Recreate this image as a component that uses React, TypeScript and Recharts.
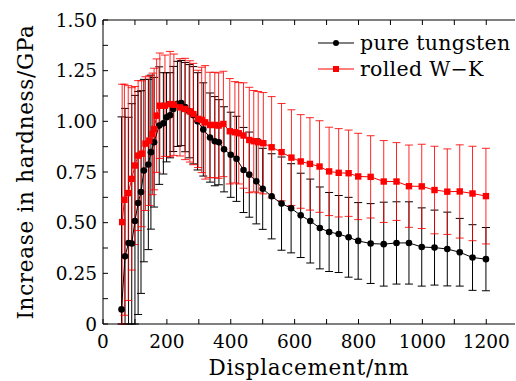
import {
  ScatterChart,
  Scatter,
  XAxis,
  YAxis,
  ErrorBar,
  Legend,
} from "recharts";

const FONT = "'DejaVu Serif', serif";

// displacement (nm), hardness increase (GPa), error half-width (GPa)
const pureX = [
  58, 69, 80, 90, 100, 110, 119, 128, 142, 150, 160, 176, 189, 199, 210, 220, 233, 245, 257, 270,
  283, 296, 314, 335, 350, 363, 379, 400, 418, 440, 458, 480, 500, 528, 559, 589, 619, 649, 679, 708,
  738, 769, 799, 838, 879, 919, 958, 998, 1038, 1078, 1117, 1157, 1199,
];
const pureY = [
  0.072, 0.334, 0.4, 0.397, 0.508, 0.597, 0.651, 0.757, 0.787, 0.848, 0.897, 0.979, 0.99, 1.02, 1.03,
  1.061, 1.086, 1.09, 1.07, 1.05, 1.03, 1.0, 0.96, 0.92, 0.902, 0.897, 0.862, 0.835, 0.815, 0.76,
  0.737, 0.704, 0.667, 0.63, 0.594, 0.571, 0.536, 0.508, 0.474, 0.454, 0.444, 0.428, 0.41, 0.397,
  0.394, 0.4, 0.4, 0.38, 0.377, 0.37, 0.354, 0.328, 0.32,
];
const pureErr = [
  0.95, 0.73, 0.62, 0.69, 0.62, 0.55, 0.5, 0.45, 0.42, 0.38, 0.32, 0.29, 0.25, 0.22, 0.21, 0.21, 0.21,
  0.21, 0.22, 0.23, 0.24, 0.24, 0.23, 0.22, 0.22, 0.21, 0.21, 0.21, 0.21, 0.21, 0.21, 0.21, 0.2, 0.21,
  0.23, 0.22, 0.208, 0.207, 0.202, 0.195, 0.19, 0.197, 0.189, 0.197, 0.207, 0.203, 0.203, 0.193, 0.185,
  0.182, 0.167, 0.162, 0.156,
];

const rolledX = [
  60, 67, 79, 90, 100, 110, 121, 133, 145, 155, 160, 168, 178, 194, 210, 222, 241, 257, 272, 283, 298,
  309, 320, 335, 350, 362, 377, 397, 413, 425, 440, 458, 472, 486, 502, 528, 559, 590, 619, 648, 678,
  708, 738, 769, 799, 838, 879, 919, 958, 998, 1038, 1078, 1117, 1157, 1199,
];
const rolledY = [
  0.503, 0.613, 0.646, 0.716, 0.782, 0.831, 0.84, 0.89, 0.905, 0.938, 0.962, 1.028, 1.077, 1.077,
  1.085, 1.082, 1.069, 1.061, 1.049, 1.036, 1.012, 1.007, 0.995, 0.982, 0.982, 0.979, 0.987, 0.951,
  0.946, 0.941, 0.93, 0.908, 0.902, 0.897, 0.892, 0.872, 0.848, 0.821, 0.802, 0.79, 0.777, 0.753,
  0.746, 0.744, 0.728, 0.726, 0.703, 0.703, 0.68, 0.679, 0.661, 0.653, 0.654, 0.644, 0.631,
];
const rolledErr = [
  0.68, 0.57, 0.53, 0.45, 0.39, 0.37, 0.36, 0.33, 0.32, 0.3, 0.3, 0.28, 0.26, 0.25, 0.26, 0.25, 0.24,
  0.25, 0.25, 0.25, 0.24, 0.26, 0.28, 0.26, 0.26, 0.26, 0.26, 0.26, 0.25, 0.25, 0.26, 0.26, 0.25, 0.25,
  0.25, 0.25, 0.24, 0.236, 0.231, 0.228, 0.226, 0.218, 0.218, 0.213, 0.213, 0.203, 0.202, 0.192, 0.203,
  0.208, 0.216, 0.211, 0.23, 0.233, 0.236,
];

const xTicks = [0, 100, 200, 300, 400, 500, 600, 700, 800, 900, 1000, 1100, 1200];
const yTicks = [0, 0.125, 0.25, 0.375, 0.5, 0.625, 0.75, 0.875, 1, 1.125, 1.25, 1.375, 1.5];

const SERIES = [
  { name: "pure tungsten", color: "#000000", marker: "circle" },
  { name: "rolled W\u2212K", color: "#ff0000", marker: "square" },
];

// error bars stop at the x axis, like the clipped bars in the figure
const toRows = (xs: number[], ys: number[], es: number[]) =>
  xs.map((x, i) => ({ x, y: ys[i], err: [Math.min(es[i], ys[i]), es[i]] }));

const pureData = toRows(pureX, pureY, pureErr);
const rolledData = toRows(rolledX, rolledY, rolledErr);

const xLabel = (v: number) => (v % 200 === 0 ? String(v) : "");
const yLabel = (v: number) => {
  const q = v * 4;
  if (Math.abs(q - Math.round(q)) > 1e-6) return "";
  return v === 0 ? "0" : v.toFixed(2);
};

const Dot = (p: any) => <circle cx={p.cx} cy={p.cy} r={3.3} fill="#000" />;
const Square = (p: any) => <rect x={p.cx - 3.2} y={p.cy - 3.2} width={6.4} height={6.4} fill="#ff0000" />;

function LegendBox() {
  return (
    <div style={{ fontFamily: FONT, fontSize: 20.5, letterSpacing: 0.3, color: "#000" }}>
      {SERIES.map((s) => (
        <div key={s.name} style={{ display: "flex", alignItems: "center", height: 26 }}>
          <svg width={36} height={12} style={{ marginRight: 6 }}>
            <line x1={0} y1={6} x2={36} y2={6} stroke={s.color} strokeWidth={1} />
            {s.marker === "circle" ? (
              <circle cx={18} cy={6} r={3} fill={s.color} />
            ) : (
              <rect x={15} y={3} width={6} height={6} fill={s.color} />
            )}
          </svg>
          <span style={{ lineHeight: "26px" }}>{s.name}</span>
        </div>
      ))}
    </div>
  );
}

export default function App() {
  const tickStyle = { fontSize: 18.5, fill: "#000", fontFamily: FONT };
  const titleStyle = { fontSize: 21.5, fill: "#000", fontFamily: FONT, letterSpacing: 0.7 };
  return (
    <div style={{ position: "absolute", left: 0, top: 0, width: 516, height: 381, background: "#fff" }}>
      <ScatterChart width={516} height={381} margin={{ top: 19, right: 1, bottom: 0, left: 0 }} style={{ fontFamily: FONT }}>
        <XAxis
          xAxisId="top"
          orientation="top"
          type="number"
          dataKey="x"
          domain={[0, 1290]}
          ticks={xTicks}
          tickFormatter={() => ""}
          tickSize={-5}
          height={1}
          stroke="#000"
          allowDataOverflow
        />
        <XAxis
          type="number"
          dataKey="x"
          domain={[0, 1290]}
          ticks={xTicks}
          tickFormatter={xLabel}
          tickSize={-5}
          tickMargin={16}
          height={57}
          stroke="#000"
          tick={tickStyle}
          allowDataOverflow
          label={{ value: "Displacement/nm", position: "insideBottom", offset: 6, style: titleStyle }}
        />
        <YAxis
          type="number"
          dataKey="y"
          domain={[0, 1.5]}
          ticks={yTicks}
          tickFormatter={yLabel}
          tickSize={-5}
          tickMargin={11}
          width={103}
          stroke="#000"
          tick={tickStyle}
          allowDataOverflow
          label={{
            value: "Increase in hardness/GPa",
            angle: -90,
            position: "insideLeft",
            offset: 25,
            style: { ...titleStyle, textAnchor: "middle" },
          }}
        />
        <Scatter
          name={SERIES[0].name}
          data={pureData}
          line={{ stroke: "#000", strokeWidth: 1 }}
          shape={Dot}
          isAnimationActive={false}
        >
          <ErrorBar dataKey="err" direction="y" width={4} stroke="#000" strokeWidth={1} isAnimationActive={false} />
        </Scatter>
        <Scatter
          name={SERIES[1].name}
          data={rolledData}
          line={{ stroke: "#ff0000", strokeWidth: 1 }}
          shape={Square}
          isAnimationActive={false}
        >
          <ErrorBar
            dataKey="err"
            direction="y"
            width={4}
            stroke="#ff0000"
            strokeOpacity={0.85}
            strokeWidth={1}
            isAnimationActive={false}
          />
        </Scatter>
        <Legend
          layout="horizontal"
          align="center"
          verticalAlign="middle"
          wrapperStyle={{ left: 318, top: 30, width: "auto", height: "auto" }}
          content={() => <LegendBox />}
        />
      </ScatterChart>
    </div>
  );
}
